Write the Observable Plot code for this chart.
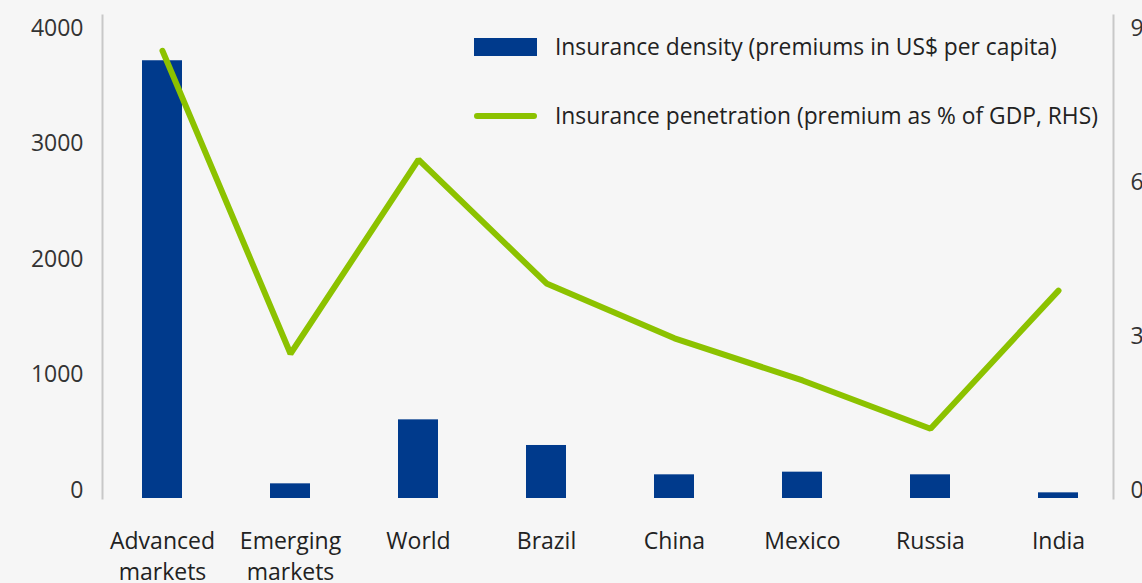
<!DOCTYPE html>
<html>
<head>
<meta charset="utf-8">
<script src="https://cdn.jsdelivr.net/npm/d3@7"></script>
<script src="https://cdn.jsdelivr.net/npm/@observablehq/plot@0.6"></script>
<style>
  html, body { margin: 0; padding: 0; background: #f6f6f6; }
  #wrap { position: relative; width: 1142px; height: 583px; font-family: "Open Sans", "Noto Sans", sans-serif; }
  #legend { position: absolute; left: 474px; top: 0; font-size: 22.8px; color: #222; }
  .item { position: absolute; white-space: nowrap; display: flex; align-items: center; }
  .sw { display: inline-block; width: 63px; margin-right: 18px; }
</style>
</head>
<body>
<div id="wrap"></div>
<script>
const categories = ["Advanced markets", "Emerging markets", "World", "Brazil", "China", "Mexico", "Russia", "India"];
const density = [3790, 127, 681, 459, 205, 228, 205, 49];          // US$ per capita (LHS)
const penetration = [8.72, 2.82, 6.60, 4.19, 3.12, 2.30, 1.36, 4.05]; // % of GDP (RHS)
const leftTicks = [0, 1000, 2000, 3000, 4000];
const rightTicks = [0, 3, 6, 9];
const seriesNames = ["Insurance density (premiums in US$ per capita)", "Insurance penetration (premium as % of GDP, RHS)"];

const blue = "#003a8c";
const green = "#8cc200";
const ratio = 4000 / 9;

const data = categories.map((c, i) => ({cat: c, density: density[i], pen: penetration[i]}));

const chart = Plot.plot({
  width: 1142,
  height: 583,
  marginTop: 15,
  marginBottom: 85,
  marginLeft: 102,
  marginRight: 29,
  style: {background: "#f6f6f6", fontFamily: "'Open Sans', 'Noto Sans', sans-serif", fontSize: "23px", color: "#333"},
  x: {domain: categories, range: [98, 1122], paddingInner: 0.6875, paddingOuter: 0.34375, axis: null},
  y: {domain: [0, 4000], range: [498, 36], axis: null},
  marks: [
    Plot.frame({anchor: "left", stroke: "#c8c8c8", strokeWidth: 2}),
    Plot.frame({anchor: "right", stroke: "#c8c8c8", strokeWidth: 2}),
    Plot.barY(data, {x: "cat", y: "density", fill: blue}),
    Plot.line(data, {x: "cat", y: d => d.pen * ratio, stroke: green, strokeWidth: 6, strokeLinecap: "round", strokeLinejoin: "miter"}),
    Plot.axisY({anchor: "left", label: null, ticks: leftTicks, tickFormat: d => String(d), tickSize: 0, tickPadding: 19, dy: -8, fill: "#333", fontSize: 23}),
    Plot.axisY({anchor: "right", label: null, ticks: rightTicks.map(v => v * ratio), tickFormat: d => String(Math.round(d / ratio)), tickSize: 0, tickPadding: 17, dy: -8, fill: "#333", fontSize: 23}),
    Plot.axisX({anchor: "bottom", label: null, tickSize: 0, tickPadding: 28, tickFormat: d => d.replace(" ", "\n"), lineHeight: 1.35, fill: "#222", fontSize: 23})
  ]
});

const wrap = document.getElementById("wrap");
wrap.appendChild(chart);

const legend = document.createElement("div");
legend.id = "legend";
legend.innerHTML = `
  <div class="item" style="top:31px"><span class="sw" style="height:18px;background:${blue}"></span>${seriesNames[0]}</div>
  <div class="item" style="top:100px"><span class="sw" style="height:6px;border-radius:3px;background:${green}"></span>${seriesNames[1]}</div>`;
wrap.appendChild(legend);
</script>
</body>
</html>
